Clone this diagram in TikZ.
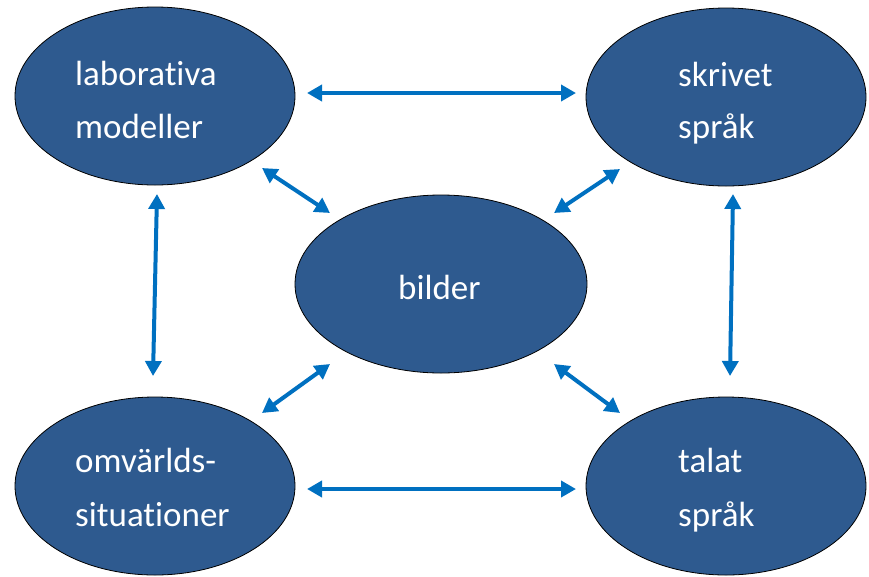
\documentclass[tikz,border=0pt]{standalone}
\usepackage{fontspec}
\setmainfont{Carlito}[RawFeature={-liga;-clig;-calt;-dlig}]
\usetikzlibrary{shapes.geometric,arrows.meta}
\definecolor{blobfill}{RGB}{46,90,143}
\definecolor{arrowblue}{RGB}{0,112,192}
\tikzset{
  blob/.style={ellipse, draw=black, line width=0.8pt, fill=blobfill, inner sep=0pt, minimum width=280pt, minimum height=178pt},
  lbl/.style={anchor=base west, text=white, inner sep=0pt, font=\fontsize{35}{42}\selectfont},
  link/.style={draw=arrowblue, line width=4pt, {Triangle[length=15pt,width=16pt]}-{Triangle[length=15pt,width=16pt]}}
}
\begin{document}
\begin{tikzpicture}[x=1pt,y=-1pt]
\useasboundingbox (0,0) rectangle (869,576);
\node[blob] (lab) at (155,96) {};
\node[blob] (skr) at (726,97) {};
\node[blob, minimum width=292pt] (bil) at (441,284) {};
\node[blob] (omv) at (155,486) {};
\node[blob] (tal) at (726,486) {};
\node[lbl] (t1) at (75,85) {laborat\kern0pt iva};
\node[lbl] (t2) at (75,138) {modeller};
\node[lbl] (t3) at (678,86) {skrivet};
\node[lbl] (t4) at (678,138) {språk};
\node[lbl] (t5) at (398,299) {bilder};
\node[lbl] (t6) at (75,472) {omvärlds-};
\node[lbl] (t7) at (75,526) {situat\kern0pt ioner};
\node[lbl] (t8) at (678,472) {talat};
\node[lbl] (t9) at (678,526) {språk};
\coordinate (a1) at (307,93);
\coordinate (a2) at (576,93);
\coordinate (b1) at (307,489);
\coordinate (b2) at (576,489);
\coordinate (c1) at (262,168);
\coordinate (c2) at (330,213);
\coordinate (d1) at (620,169);
\coordinate (d2) at (554,213);
\coordinate (e1) at (157,194);
\coordinate (e2) at (153,376);
\coordinate (f1) at (733,194);
\coordinate (f2) at (730,376);
\coordinate (g1) at (262,413);
\coordinate (g2) at (330,364);
\coordinate (h1) at (554,364);
\coordinate (h2) at (620,413);
\draw[link] (a1) -- (a2);
\draw[link] (b1) -- (b2);
\draw[link] (c1) -- (c2);
\draw[link] (d1) -- (d2);
\draw[link] (e1) -- (e2);
\draw[link] (f1) -- (f2);
\draw[link] (g1) -- (g2);
\draw[link] (h1) -- (h2);
\end{tikzpicture}
\end{document}
